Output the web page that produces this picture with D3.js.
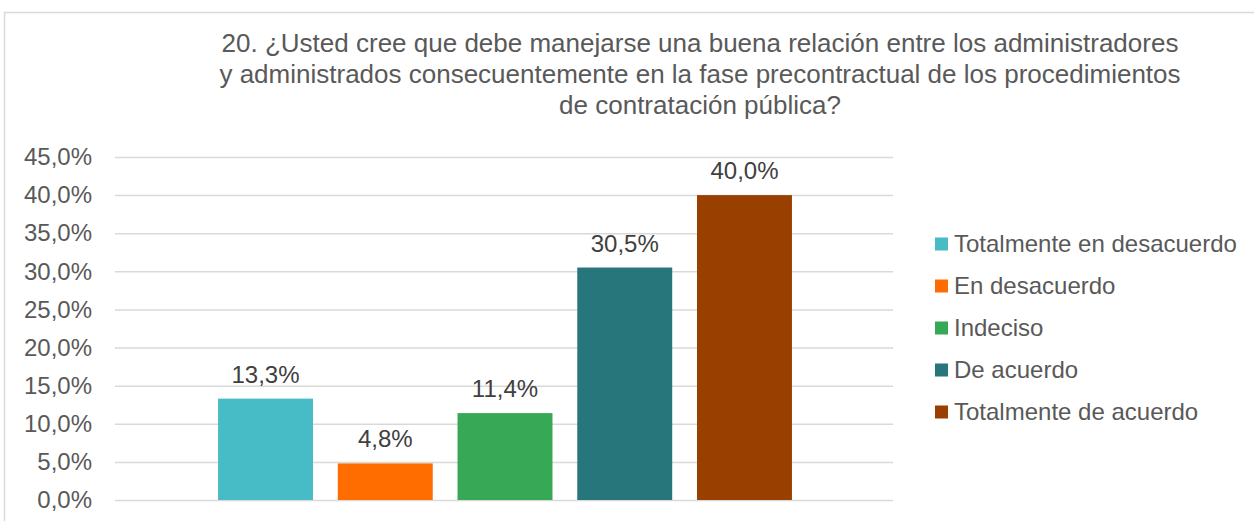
<!DOCTYPE html>
<html>
<head>
<meta charset="utf-8">
<script src="https://cdn.jsdelivr.net/npm/d3@7"></script>
<style>
    body { margin: 0; background: #fff; }
    svg { display: block; font-family: "Liberation Sans", Arial, sans-serif; }
</style>
</head>
<body>
<div id="chart"></div>
<script>
const titleLines = [
    '20. ¿Usted cree que debe manejarse una buena relación entre los administradores',
    'y administrados consecuentemente en la fase precontractual de los procedimientos',
    'de contratación pública?'
];
const categories = ['Totalmente en desacuerdo', 'En desacuerdo', 'Indeciso', 'De acuerdo', 'Totalmente de acuerdo'];
const values = [0.133, 0.048, 0.114, 0.305, 0.400];
const colors = ['#47bcc6', '#ff6d00', '#36a856', '#26767c', '#993f00'];
const yTicks = [0, 0.05, 0.10, 0.15, 0.20, 0.25, 0.30, 0.35, 0.40, 0.45];

const width = 1254, height = 521;
const plot = { left: 115, right: 893, top: 157, bottom: 500 };

const locale = d3.formatLocale({ decimal: ',', thousands: '.', grouping: [3], currency: ['', '€'] });
const pct = locale.format('.1%');

const svg = d3.select('#chart').append('svg')
    .attr('width', width)
    .attr('height', height);

// chart frame
svg.append('rect')
    .attr('x', 4.5).attr('y', 12.5)
    .attr('width', width + 20).attr('height', height + 20)
    .attr('fill', 'none')
    .attr('stroke', '#d9d9d9')
    .attr('stroke-width', 1.5);

// title
svg.append('text')
    .attr('text-anchor', 'middle')
    .style('font-size', '26px')
    .attr('fill', '#595959')
    .selectAll('tspan')
    .data(titleLines)
    .enter()
    .append('tspan')
    .attr('x', 700)
    .attr('y', (d, i) => 52 + i * 31)
    .text(d => d);

const y = d3.scaleLinear()
    .domain([0, 0.45])
    .range([plot.bottom, plot.top]);

// bars sit slightly right of the plot centre
const x = d3.scaleBand()
    .domain(categories)
    .range([plot.left + 2, plot.right])
    .paddingInner(0.207)
    .paddingOuter(0.844);

// gridlines
svg.append('g')
    .attr('transform', `translate(${plot.left},0)`)
    .call(d3.axisLeft(y)
        .tickValues(yTicks)
        .tickSize(-(plot.right - plot.left))
        .tickFormat('')
    )
    .call(g => g.select('.domain').remove())
    .selectAll('.tick line')
    .attr('stroke', '#d9d9d9')
    .attr('stroke-width', 1.5);

// y axis labels
svg.append('g')
    .attr('transform', `translate(${plot.left},0)`)
    .call(d3.axisLeft(y).tickValues(yTicks).tickSize(0).tickPadding(23).tickFormat(pct))
    .call(g => g.select('.domain').remove())
    .selectAll('text')
    .style('font-size', '24px')
    .style('font-family', '"Liberation Sans", Arial, sans-serif')
    .attr('fill', '#595959');

// bars
svg.selectAll('.bar')
    .data(values)
    .enter()
    .append('rect')
    .attr('class', 'bar')
    .attr('x', (d, i) => x(categories[i]))
    .attr('y', d => y(d))
    .attr('width', x.bandwidth())
    .attr('height', d => y(0) - y(d))
    .attr('fill', (d, i) => colors[i]);

// data labels
svg.selectAll('.label')
    .data(values)
    .enter()
    .append('text')
    .attr('class', 'label')
    .attr('x', (d, i) => x(categories[i]) + x.bandwidth() / 2)
    .attr('y', d => y(d) - 16)
    .attr('text-anchor', 'middle')
    .style('font-size', '24px')
    .attr('fill', '#404040')
    .text(d => pct(d));

// legend
const legend = svg.append('g')
    .selectAll('g')
    .data(categories)
    .enter()
    .append('g')
    .attr('transform', (d, i) => `translate(935,${244 + i * 42})`);

legend.append('rect')
    .attr('x', 0).attr('y', -6.5)
    .attr('width', 13).attr('height', 13)
    .attr('fill', (d, i) => colors[i]);

legend.append('text')
    .attr('x', 19)
    .attr('y', 8)
    .style('font-size', '24px')
    .attr('fill', '#595959')
    .text(d => d);
</script>
</body>
</html>
